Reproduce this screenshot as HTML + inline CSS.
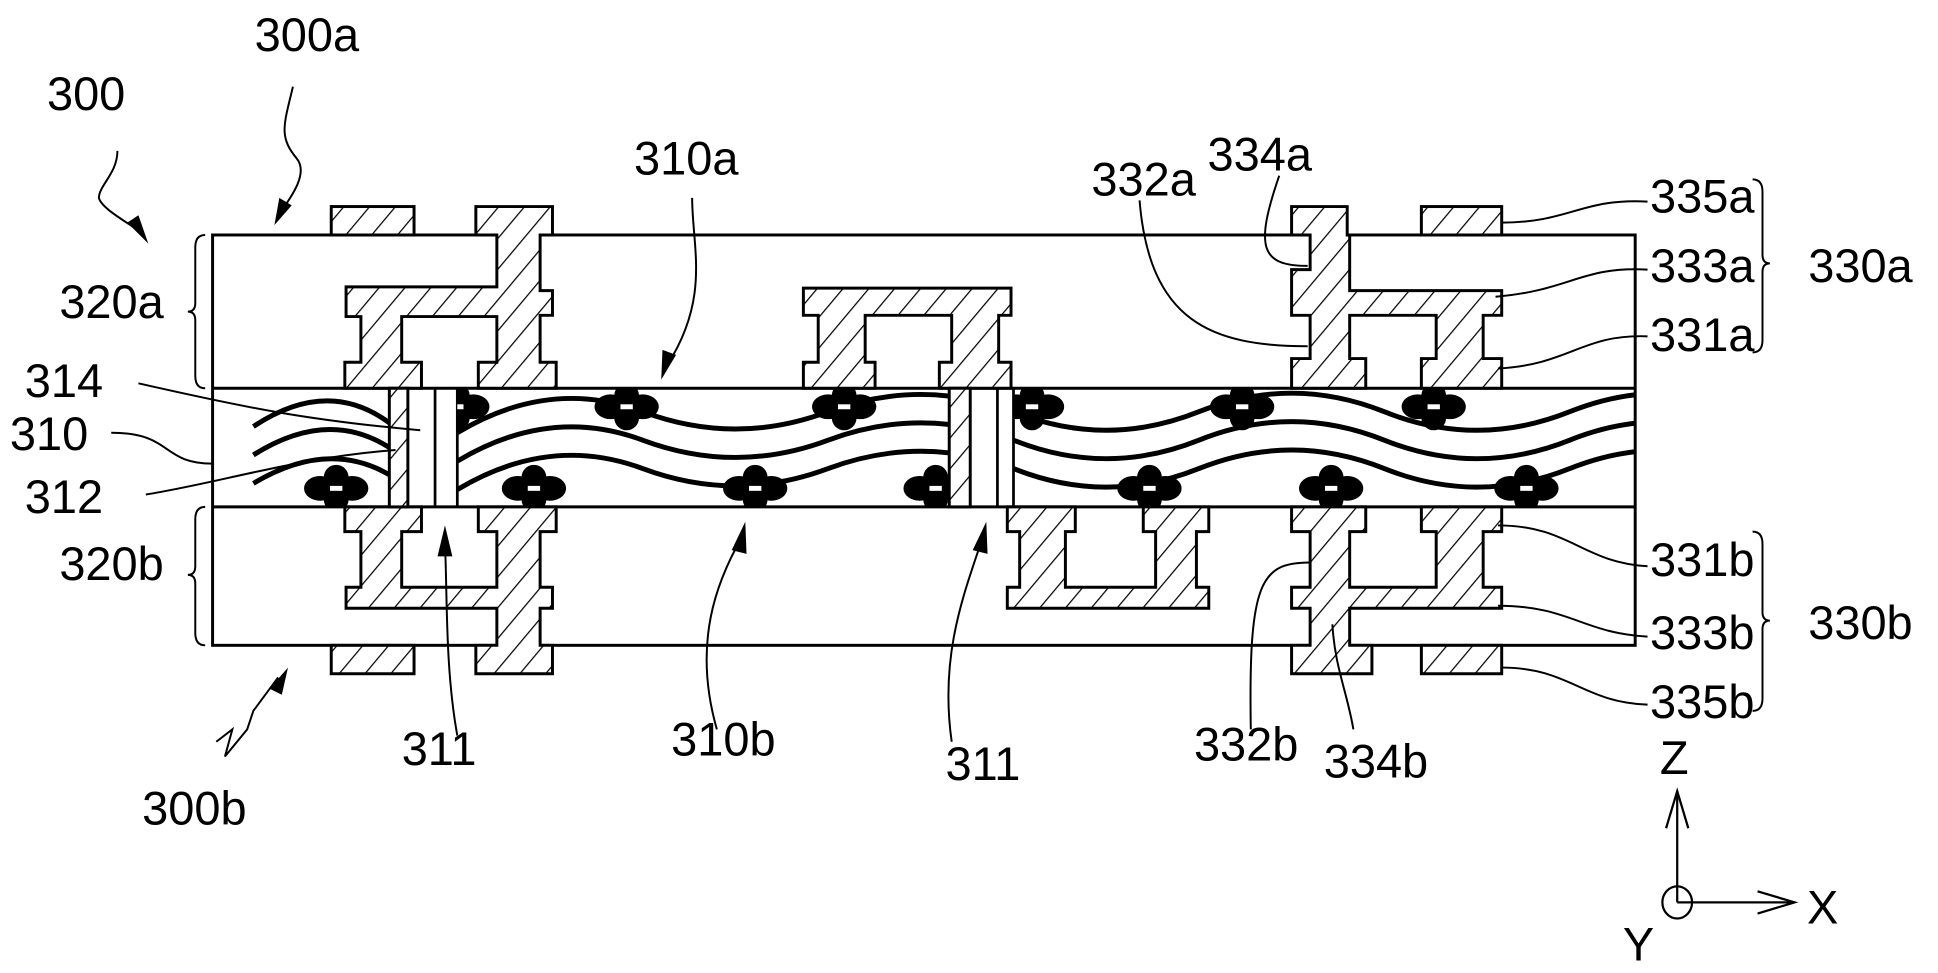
<!DOCTYPE html>
<html><head><meta charset="utf-8"><style>html,body{margin:0;padding:0;background:#fff}svg{display:block}</style></head>
<body>
<svg width="1938" height="973" viewBox="0 0 1568 787" xmlns="http://www.w3.org/2000/svg" font-family="Liberation Sans, sans-serif" font-size="38">
<defs>
<pattern id="h" patternUnits="userSpaceOnUse" width="16" height="16" patternTransform="rotate(40)">
<rect width="16" height="16" fill="#fff"/><line x1="0" y1="0" x2="0" y2="16" stroke="#000" stroke-width="2"/>
</pattern>
<clipPath id="cA"><rect x="370" y="314" width="398" height="96"/></clipPath>
<clipPath id="cB"><rect x="820" y="314" width="503" height="96"/></clipPath>
<clipPath id="cL"><rect x="172" y="314" width="143" height="96"/></clipPath>
<g id="fl"><ellipse cx="-13" cy="0" rx="13" ry="10"/><ellipse cx="13" cy="0" rx="13" ry="10"/><circle cx="0" cy="-9" r="10"/><circle cx="0" cy="9" r="10"/><rect x="-5" y="-2" width="10" height="4" fill="#fff"/></g>
</defs>
<g fill="none" stroke="#000" stroke-width="2.4">
<rect x="172" y="190" width="1151" height="332"/>
<line x1="172" y1="314" x2="1323" y2="314"/>
<line x1="172" y1="410" x2="1323" y2="410"/>
</g>
<g fill="url(#h)" stroke="#000" stroke-width="2.4">
<rect x="268" y="167" width="67" height="23"/>
<polygon points="385,167 447,167 447,190 437,190 437,235 447,235 447,255 437,255 437,293 450,293 450,314 387,314 387,293 402,293 402,256 325,256 325,293 341,293 341,314 279,314 279,293 292,293 292,256 280,256 280,232 402,232 402,190 385,190"/>
<polygon points="650,233 818,233 818,255 808,255 808,293 818,293 818,314 760,314 760,293 770,293 770,255 700,255 700,293 708,293 708,314 650,314 650,293 662,293 662,255 650,255"/>
<polygon points="1045,167 1090,167 1090,190 1092,190 1092,235 1215,235 1215,255 1200,255 1200,290 1215,290 1215,314 1150,314 1150,290 1162,290 1162,255 1092,255 1092,290 1105,290 1105,314 1045,314 1045,290 1060,290 1060,255 1045,255 1045,218 1060,218 1060,190 1045,190"/>
<rect x="1150" y="167" width="65" height="23"/>
<polygon points="279,410 341,410 341,430 325,430 325,475 402,475 402,430 387,430 387,410 450,410 450,430 437,430 437,475 447,475 447,492 437,492 437,522 447,522 447,545 385,545 385,522 402,522 402,492 280,492 280,475 292,475 292,430 279,430"/>
<rect x="268" y="522" width="67" height="23"/>
<polygon points="815,410 870,410 870,430 862,430 862,475 935,475 935,430 925,430 925,410 978,410 978,430 968,430 968,475 978,475 978,492 815,492 815,475 825,475 825,430 815,430"/>
<polygon points="1045,410 1105,410 1105,430 1092,430 1092,475 1162,475 1162,430 1150,430 1150,410 1215,410 1215,430 1200,430 1200,475 1215,475 1215,492 1092,492 1092,522 1110,522 1110,545 1045,545 1045,522 1060,522 1060,492 1045,492 1045,475 1060,475 1060,430 1045,430"/>
<rect x="1150" y="522" width="65" height="23"/>
<rect x="315" y="314" width="15" height="96"/>
<rect x="768" y="314" width="17" height="96"/>
</g>
<g fill="none" stroke="#000" stroke-width="2.2">
<line x1="352" y1="314" x2="352" y2="410"/><line x1="370" y1="314" x2="370" y2="410"/>
<line x1="807" y1="314" x2="807" y2="410"/><line x1="820" y1="314" x2="820" y2="410"/>
</g>
<g fill="none" stroke="#000" stroke-width="4">
<g clip-path="url(#cA)">
<path d="M370,350 Q445,305 520,333 T670,333 T820,333"/>
<path d="M370,373 Q445,328 520,356 T670,356 T820,356"/>
<path d="M370,396 Q445,351 520,379 T670,379 T820,379"/>
</g>
<g clip-path="url(#cB)">
<path d="M820,333 Q895,363 970,333 T1120,333 T1270,333 T1420,333"/>
<path d="M820,356 Q895,386 970,356 T1120,356 T1270,356 T1420,356"/>
<path d="M820,379 Q895,409 970,379 T1120,379 T1270,379 T1420,379"/>
</g>
<g clip-path="url(#cL)">
<path d="M205,345 Q265,305 315,342"/>
<path d="M205,368 Q265,330 315,362"/>
<path d="M205,391 Q265,355 315,384"/>
</g>
</g>
<g fill="#000">
<g clip-path="url(#cA)"><use href="#fl" x="370" y="329"/><use href="#fl" x="507" y="329"/><use href="#fl" x="683" y="329"/><use href="#fl" x="432" y="395"/><use href="#fl" x="611" y="395"/><use href="#fl" x="757" y="395"/></g>
<g clip-path="url(#cB)"><use href="#fl" x="835" y="329"/><use href="#fl" x="1005" y="329"/><use href="#fl" x="1160" y="329"/><use href="#fl" x="930" y="395"/><use href="#fl" x="1077" y="395"/><use href="#fl" x="1235" y="395"/></g>
<g clip-path="url(#cL)"><use href="#fl" x="272" y="395"/></g>
</g>
<g fill="none" stroke="#000" stroke-width="1.6">
<path d="M166,190 Q158,190 158,200 L158,245 Q158,252 152,252 Q158,252 158,259 L158,304 Q158,314 166,314"/>
<path d="M166,410 Q158,410 158,420 L158,458 Q158,465 152,465 Q158,465 158,472 L158,512 Q158,522 166,522"/>
<path d="M1418,145 Q1426,145 1426,155 L1426,206 Q1426,213 1432,213 Q1426,213 1426,220 L1426,275 Q1426,285 1418,285"/>
<path d="M1418,430 Q1426,430 1426,440 L1426,495 Q1426,502 1432,502 Q1426,502 1426,509 L1426,565 Q1426,575 1418,575"/>
<path d="M1333,163 C1280,160 1270,180 1215,180"/>
<path d="M1333,218 C1280,215 1270,235 1210,240"/>
<path d="M1333,272 C1280,270 1270,295 1212,298"/>
<path d="M1333,458 C1280,455 1270,425 1212,425"/>
<path d="M1333,515 C1280,512 1270,490 1212,490"/>
<path d="M1333,570 C1280,568 1270,540 1215,540"/>
<path d="M922,162 C930,260 980,280 1058,280"/>
<path d="M1035,142 C1015,200 1020,215 1058,215"/>
<path d="M1012,590 C1010,470 1020,455 1060,455"/>
<path d="M1095,590 C1090,560 1080,540 1078,505"/>
<path d="M112,310 C200,330 250,340 340,348"/>
<path d="M90,350 C140,350 130,375 172,375"/>
<path d="M118,400 C180,390 240,370 320,364"/>
<path d="M237,70 C230,100 225,110 240,128 C250,140 235,160 228,170"/>
<path d="M95,122 C95,140 80,150 80,160 C82,168 100,178 110,185"/>
<path d="M560,160 C560,200 575,240 540,295"/>
<path d="M370,595 C360,540 362,480 360,440"/>
<path d="M580,590 C560,520 580,470 600,435"/>
<path d="M770,600 C760,530 780,480 795,435"/>
<path d="M175,600 L188,590 L182,612 L200,590 L205,575 L225,548"/>
</g>
<g fill="#000">
<polygon points="222,182 226,160 236,166"/>
<polygon points="120,197 103,180 112,174"/>
<polygon points="535,307 536,283 547,287"/>
<polygon points="360,425 354,450 366,450"/>
<polygon points="603,422 592,445 604,448"/>
<polygon points="798,422 787,445 799,448"/>
<polygon points="233,540 218,557 228,562"/>
</g>
<g fill="none" stroke="#000" stroke-width="1.8">
<line x1="1357" y1="730" x2="1357" y2="640"/>
<path d="M1348,670 L1357,640 L1366,670"/>
<line x1="1357" y1="730" x2="1452" y2="730"/>
<path d="M1422,721 L1452,730 L1422,739"/>
<ellipse cx="1357" cy="730" rx="12" ry="13"/>
</g>
<g fill="#000">
<text x="38" y="89">300</text>
<text x="206" y="41">300a</text>
<text x="513" y="141">310a</text>
<text x="883" y="158">332a</text>
<text x="977" y="138">334a</text>
<text x="1335" y="172">335a</text>
<text x="1335" y="228">333a</text>
<text x="1335" y="284">331a</text>
<text x="1463" y="228">330a</text>
<text x="48" y="257">320a</text>
<text x="20" y="321">314</text>
<text x="8" y="364">310</text>
<text x="20" y="415">312</text>
<text x="48" y="469">320b</text>
<text x="1335" y="466">331b</text>
<text x="1335" y="525">333b</text>
<text x="1463" y="517">330b</text>
<text x="1335" y="581">335b</text>
<text x="325" y="619">311</text>
<text x="543" y="611">310b</text>
<text x="765" y="631">311</text>
<text x="966" y="615">332b</text>
<text x="1071" y="629">334b</text>
<text x="115" y="667">300b</text>
<text x="1343" y="626">Z</text>
<text x="1462" y="747">X</text>
<text x="1313" y="777">Y</text>
</g>
</svg>
</body></html>
